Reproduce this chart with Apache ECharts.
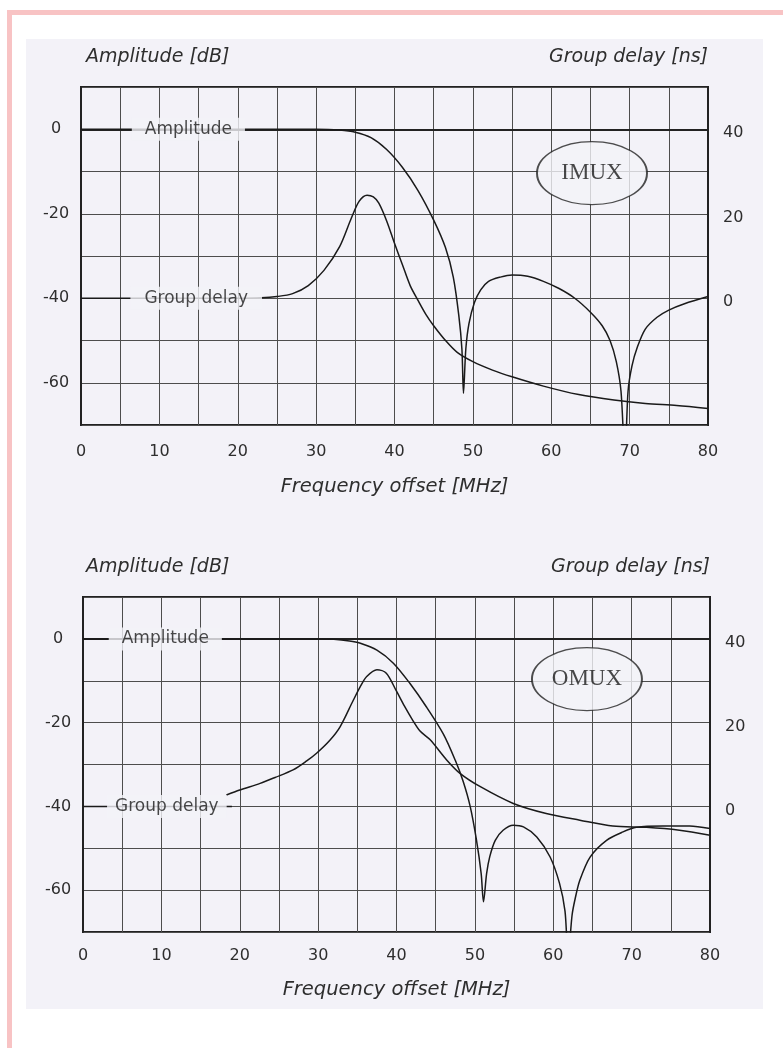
<!DOCTYPE html>
<html><head><meta charset="utf-8">
<script src="https://cdn.jsdelivr.net/npm/echarts@6/dist/echarts.min.js"></script>
<style>html,body{margin:0;padding:0;background:#fff}#c{width:783px;height:1048px}</style>
</head><body><div id="c"></div>
<script>
// ---- data ----
const freqTicks = [0, 10, 20, 30, 40, 50, 60, 70, 80];
const ampTickLabels = [0, -20, -40, -60];
const delayTickLabels = [0, 20, 40];

const imuxAmplitude = [[0,0],[10,0],[20,0],[30,0],[33,-0.2],[35,-0.7],[37,-2.0],[39,-4.8],[41,-9.0],[43,-14.5],[45,-21.5],[46.5,-28],[47.5,-35],[48.2,-44],[48.6,-52],[48.8,-62.5],[49.1,-52],[49.5,-46],[50.2,-41],[51,-38],[52,-36],[53.5,-35],[55,-34.5],[57,-34.8],[59,-36],[61,-37.7],[63,-40],[65,-43.3],[66.5,-46.5],[67.5,-50],[68.3,-55],[68.9,-62],[69.4,-78],[69.8,-62],[70.3,-56],[71,-51.5],[72,-47.3],[73.5,-44.5],[75,-42.8],[77,-41.3],[80,-39.6]];
const imuxDelay = [[0,0],[10,0],[20,0],[23,0.1],[25,0.4],[27,1.1],[29,3.0],[31,6.6],[33,12.2],[34.5,19],[35.5,23],[36.5,24.4],[37.3,24],[38,22.5],[39,18.3],[40,13],[41,8],[42,3],[43,-0.5],[44,-3.8],[45,-6.5],[46.6,-10.2],[48,-12.8],[50,-15],[52.5,-17],[55,-18.6],[59,-20.8],[63.5,-22.8],[68,-24.1],[72,-24.9],[76,-25.4],[80,-26.1]];
const omuxAmplitude = [[0,0],[10,0],[20,0],[30,0],[32,-0.1],[34,-0.5],[35.3,-1.0],[37.5,-2.7],[39.6,-5.8],[41.7,-10.6],[43.8,-16.2],[46,-22.8],[47.5,-29],[48.5,-34],[49.4,-40],[50.2,-48],[50.8,-56],[51.1,-62.8],[51.5,-56],[51.9,-52],[52.6,-48.1],[53.6,-45.7],[54.9,-44.5],[56.2,-44.9],[57.9,-47.3],[59.6,-52.1],[60.8,-58.4],[61.5,-65],[61.9,-76],[62.4,-66],[62.8,-62],[63.4,-57.6],[64.7,-52.1],[66.8,-48.1],[68.9,-46.1],[70.6,-45],[74,-44.7],[77.4,-44.7],[80,-45.3]];
const omuxDelay = [[18.3,2.7],[20,3.9],[22.6,5.5],[24.5,6.9],[26.8,8.7],[28.5,10.8],[29.8,12.7],[31.5,15.8],[32.8,19.0],[34.5,25.4],[35.5,29],[36.2,31],[37.5,32.6],[38.7,31.8],[40,27.5],[41,24],[42,20.8],[43,18],[44.3,15.9],[46.4,11.1],[48.1,7.9],[50.7,4.7],[54.9,0.7],[59.1,-1.7],[63.4,-3.3],[67.6,-4.7],[71.9,-5.0],[76.1,-5.7],[80,-6.9]];
const omuxDelayLeader = [[0,0],[19,0]];

// annotation anchors (frequency, value)
const imuxAmpLabelAt = [13.7, 0];
const imuxDelayLabelAt = [14.7, 0];
const imuxTagAt = [65.2, -10.4];
const omuxAmpLabelAt = [10.5, 0];
const omuxDelayLabelAt = [10.7, 0];
const omuxTagAt = [64.3, -9.6];

// ---- styling ----
const PAGE = '#f3f2f8';
const INK = '#1a1a1a';
const GRIDC = '#4d4d4d';
const TXT = '#2e2e2e';

function xAxis(gi, gap, lm) {
  return {
    type: 'value', gridIndex: gi, min: 0, max: 80, interval: 10,
    name: 'Frequency offset [MHz]', nameLocation: 'middle', nameGap: gap,
    nameTextStyle: { fontStyle: 'italic', fontSize: 19.5, color: TXT, verticalAlign: 'middle' },
    axisLine: { show: true, lineStyle: { color: '#222', width: 2 } },
    axisTick: { show: false },
    axisLabel: { fontSize: 16, color: TXT, margin: lm, formatter: v => freqTicks.includes(v) ? String(v) : '' },
    splitLine: { show: true, lineStyle: { color: GRIDC, width: 1 } },
    minorTick: { show: false, splitNumber: 2 },
    minorSplitLine: { show: true, lineStyle: { color: GRIDC, width: 1 } }
  };
}
function ampAxis(gi, pad) {
  return {
    type: 'value', gridIndex: gi, min: -70, max: 10, interval: 10, position: 'left',
    name: 'Amplitude [dB]', nameLocation: 'end', nameGap: 30,
    nameTextStyle: { fontStyle: 'italic', fontSize: 19, color: TXT, align: 'left', verticalAlign: 'middle', padding: [0, 0, 0, pad] },
    axisLine: { show: true, lineStyle: { color: '#222', width: 2 } },
    axisTick: { show: false },
    axisLabel: { fontSize: 16, color: TXT, align: 'center', margin: 25, formatter: v => ampTickLabels.includes(v) ? String(v) : '' },
    splitLine: { show: true, lineStyle: { color: GRIDC, width: 1 } }
  };
}
function delayAxis(gi) {
  return {
    type: 'value', gridIndex: gi, min: -30, max: 50, interval: 10, position: 'right',
    name: 'Group delay [ns]', nameLocation: 'end', nameGap: 30,
    nameTextStyle: { fontStyle: 'italic', fontSize: 19, color: TXT, align: 'right', verticalAlign: 'middle' },
    axisLine: { show: true, lineStyle: { color: '#222', width: 2 } },
    axisTick: { show: false },
    axisLabel: { fontSize: 16, color: TXT, margin: 15, verticalAlign: 'top', lineHeight: 8, formatter: v => delayTickLabels.includes(v) ? String(v) : '' },
    splitLine: { show: false }
  };
}
function curve(data, xi, yi) {
  return { type: 'line', data, xAxisIndex: xi, yAxisIndex: yi, symbol: 'none', smooth: 0.3,
    lineStyle: { color: INK, width: 1.5 }, z: 3, silent: true };
}
function tag(point, text, xi, yi, size, pad) {
  return { type: 'scatter', data: [point], xAxisIndex: xi, yAxisIndex: yi, symbolSize: 1,
    itemStyle: { color: 'rgba(0,0,0,0)' }, z: 6, silent: true,
    label: { show: true, position: 'inside', formatter: text, fontSize: size, color: '#1a1a1a',
      backgroundColor: PAGE, padding: pad } };
}
function ellipseTag(point, text, xi, yi) {
  return { type: 'scatter', data: [point], xAxisIndex: xi, yAxisIndex: yi, symbol: 'circle', symbolSize: [110, 63],
    itemStyle: { color: PAGE, borderColor: '#222', borderWidth: 1.5 }, z: 4, silent: true,
    label: { show: true, position: 'inside', formatter: text, fontFamily: 'Liberation Serif', fontSize: 23, color: '#1a1a1a' } };
}

const option = {
  animation: false,
  textStyle: { fontFamily: 'DejaVu Sans' },
  graphic: [
    { type: 'rect', z: -10, shape: { x: 26, y: 39, width: 737, height: 970 }, style: { fill: PAGE } },
    { type: 'rect', z: -9, shape: { x: 7, y: 10, width: 776, height: 5 }, style: { fill: '#f8c3c4' } },
    { type: 'rect', z: -9, shape: { x: 7, y: 10, width: 5, height: 1038 }, style: { fill: '#f8c3c4' } }
  ],
  grid: [
    { left: 81, top: 87, width: 627, height: 338, show: true, backgroundColor: 'rgba(0,0,0,0)', borderColor: '#222', borderWidth: 2 },
    { left: 83, top: 597, width: 627, height: 335, show: true, backgroundColor: 'rgba(0,0,0,0)', borderColor: '#222', borderWidth: 2 }
  ],
  xAxis: [xAxis(0, 62, 19), xAxis(1, 58, 16)],
  yAxis: [ampAxis(0, 5), delayAxis(0), ampAxis(1, 3), delayAxis(1)],
  series: [
    curve(imuxAmplitude, 0, 0),
    curve(imuxDelay, 0, 1),
    curve(omuxAmplitude, 1, 2),
    curve(omuxDelay, 1, 3),
    curve(omuxDelayLeader, 1, 3),
    tag(imuxAmpLabelAt, 'Amplitude', 0, 0, 17, [3, 13]),
    tag(imuxDelayLabelAt, 'Group delay', 0, 1, 17, [3, 14]),
    tag(omuxAmpLabelAt, 'Amplitude', 1, 2, 17, [3, 13]),
    tag(omuxDelayLabelAt, 'Group delay', 1, 3, 17, [3, 8]),
    ellipseTag(imuxTagAt, 'IMUX', 0, 0),
    ellipseTag(omuxTagAt, 'OMUX', 1, 2)
  ]
};
const chart = echarts.init(document.getElementById('c'));
chart.setOption(option);
</script></body></html>
